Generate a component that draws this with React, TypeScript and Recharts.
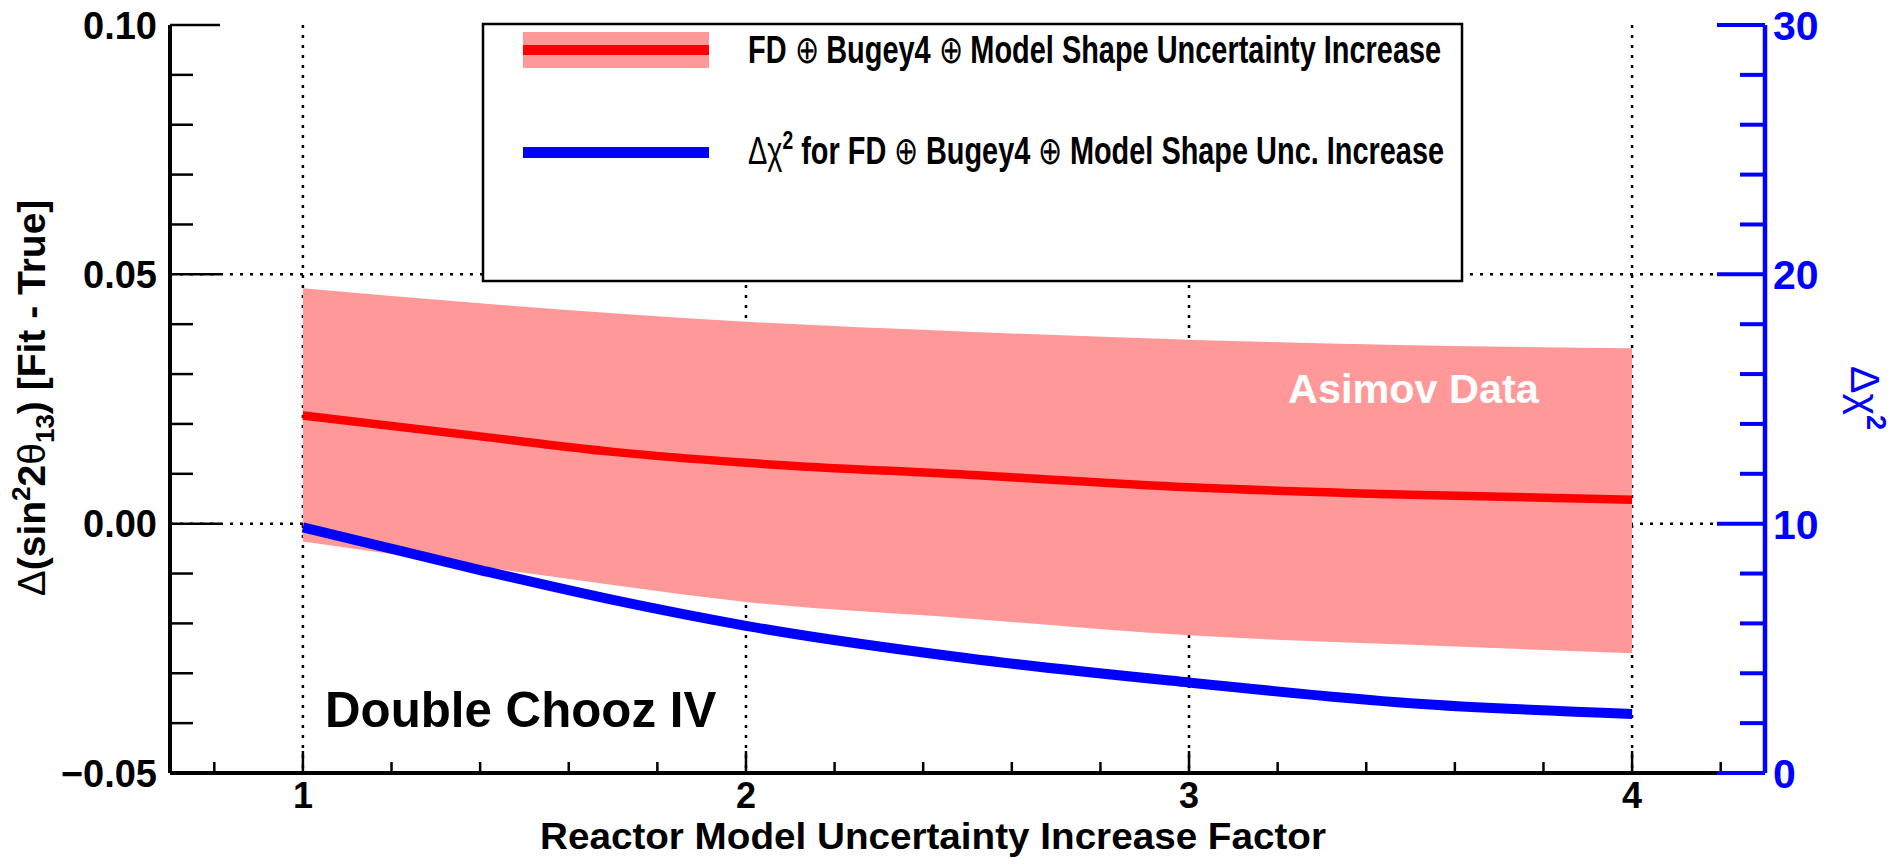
import React, { useLayoutEffect, useRef, useState } from 'react';
import { ComposedChart, Area, Line, XAxis, YAxis, CartesianGrid } from 'recharts';

// Reactor model uncertainty increase factor (x values of the curves)
const factors = [1, 1.4, 1.7, 2, 2.5, 3, 3.5, 4];
// Δ(sin²2θ13) best fit minus true value
const fitMinusTrue = [0.0217, 0.0175, 0.0144, 0.0122, 0.0098, 0.0073, 0.0058, 0.0048];
// 1σ band around the fit
const bandLow = [-0.0036, -0.0086, -0.0123, -0.0157, -0.019, -0.0224, -0.0243, -0.026];
const bandHigh = [0.0472, 0.0442, 0.0422, 0.0405, 0.0385, 0.0369, 0.0358, 0.0352];
// Δχ² (right axis)
const deltaChi2 = [9.85, 8.14, 6.94, 5.9, 4.6, 3.63, 2.8, 2.37];

// Axis ticks (minor + major) and labelled majors
const xTicks = [0.8, 1, 1.2, 1.4, 1.6, 1.8, 2, 2.2, 2.4, 2.6, 2.8, 3, 3.2, 3.4, 3.6, 3.8, 4, 4.2];
const xMajor = [1, 2, 3, 4];
const xMajorLabels = ['1', '2', '3', '4'];
const leftTicks = [-0.05, -0.04, -0.03, -0.02, -0.01, 0, 0.01, 0.02, 0.03, 0.04, 0.05, 0.06, 0.07, 0.08, 0.09, 0.1];
const leftMajor = [-0.05, 0, 0.05, 0.1];
const leftMajorLabels = ['\u22120.05', '0.00', '0.05', '0.10'];
const rightTicks = [0, 2, 4, 6, 8, 10, 12, 14, 16, 18, 20, 22, 24, 26, 28, 30];
const rightMajor = [0, 10, 20, 30];
const rightMajorLabels = ['0', '10', '20', '30'];
const gridY = [0, 0.05];

const rows = factors.map((f, i) => ({
  f,
  mid: fitMinusTrue[i],
  lo: bandLow[i],
  hi: bandHigh[i],
  chi: deltaChi2[i],
}));

const W = 1895;
const H = 865;
const FONT = '"Liberation Sans", Arial, Helvetica, sans-serif';
const BAND = '#ff9999';
const RED = '#ff0000';
const BLUE = '#0000ff';
const OPLUS = '\u2295';

const majorIndex = (list: number[], v: number) => list.findIndex((m) => Math.abs(m - v) < 1e-9);

// Text squeezed horizontally to a given width (condensed look)
const FitText = ({ x, y, width, children, ...rest }: any) => {
  const ref = useRef<SVGTextElement>(null);
  const [sx, setSx] = useState(1);
  useLayoutEffect(() => {
    if (ref.current) {
      const w = ref.current.getBBox().width;
      if (w > 0) setSx(width / w);
    }
  }, [width]);
  return (
    <g transform={`translate(${x},${y}) scale(${sx},1)`}>
      <text ref={ref} x={0} y={0} {...rest}>
        {children}
      </text>
    </g>
  );
};

const BottomTick = (props: any) => {
  const { x, y, payload } = props;
  const k = majorIndex(xMajor, payload.value);
  const len = k >= 0 ? 22 : 11;
  return (
    <g>
      <line x1={x} x2={x} y1={y} y2={y - len} stroke="#000" strokeWidth={2.5} />
      {k >= 0 && (
        <text x={x} y={y + 35} textAnchor="middle" fontFamily={FONT} fontWeight="bold" fontSize={36} fill="#000">
          {xMajorLabels[k]}
        </text>
      )}
    </g>
  );
};

const TopTick = (props: any) => {
  const { x, y, payload } = props;
  const k = majorIndex(xMajor, payload.value);
  const len = k >= 0 ? 23 : 10;
  return <line x1={x} x2={x} y1={y} y2={y + len} stroke="#000" strokeWidth={2.5} />;
};

const LeftTick = (props: any) => {
  const { x, y, payload } = props;
  const k = majorIndex(leftMajor, payload.value);
  const len = k >= 0 ? 50 : 23;
  return (
    <g>
      <line x1={x} x2={x + len} y1={y} y2={y} stroke="#000" strokeWidth={2.5} />
      {k >= 0 && (
        <text x={x - 13} y={y + 13.5} textAnchor="end" fontFamily={FONT} fontWeight="bold" fontSize={38} fill="#000">
          {leftMajorLabels[k]}
        </text>
      )}
    </g>
  );
};

const RightTick = (props: any) => {
  const { x, y, payload } = props;
  const k = majorIndex(rightMajor, payload.value);
  const len = k >= 0 ? 48 : 25;
  return (
    <g>
      <line x1={x} x2={x - len} y1={y} y2={y} stroke={BLUE} strokeWidth={4} />
      {k >= 0 && (
        <text x={x + 8} y={y + 15} textAnchor="start" fontFamily={FONT} fontWeight="bold" fontSize={41} fill={BLUE}>
          {rightMajorLabels[k]}
        </text>
      )}
    </g>
  );
};

const Overlay = () => (
  <svg
    width={W}
    height={H}
    style={{ position: 'absolute', left: 0, top: 0, pointerEvents: 'none' }}
    fontFamily={FONT}
  >
    {/* legend box */}
    <rect x={483} y={24} width={979} height={257} fill="#fff" stroke="#000" strokeWidth={2.5} />
    <rect x={523} y={32} width={186} height={36} fill={BAND} />
    <line x1={523} x2={709} y1={50} y2={50} stroke={RED} strokeWidth={10} />
    <line x1={523} x2={709} y1={152.5} y2={152.5} stroke={BLUE} strokeWidth={11} />
    <FitText x={748} y={63} width={695} fontSize={39} fontWeight="bold" fill="#000">
      {'FD '}
      <tspan fontWeight="normal">{OPLUS}</tspan>
      {' Bugey4 '}
      <tspan fontWeight="normal">{OPLUS}</tspan>
      {' Model Shape Uncertainty Increase'}
    </FitText>
    <FitText x={748} y={164} width={698} fontSize={39} fontWeight="bold" fill="#000">
      <tspan fontWeight="normal">{'\u0394\u03c7'}</tspan>
      <tspan fontSize={26} dy={-15}>2</tspan>
      <tspan dy={15}>{' for FD '}</tspan>
      <tspan fontWeight="normal">{OPLUS}</tspan>
      {' Bugey4 '}
      <tspan fontWeight="normal">{OPLUS}</tspan>
      {' Model Shape Unc. Increase'}
    </FitText>

    {/* annotations */}
    <FitText x={325} y={727} width={392} fontSize={50} fontWeight="bold" fill="#000">
      Double Chooz IV
    </FitText>
    <FitText x={1288} y={403} width={252} fontSize={41} fontWeight="bold" fill="#fff">
      Asimov Data
    </FitText>

    {/* axis titles */}
    <FitText x={540} y={849} width={786} fontSize={37} fontWeight="bold" fill="#000">
      Reactor Model Uncertainty Increase Factor
    </FitText>
    <g transform="translate(45,398) rotate(-90)">
      <text x={0} y={0} textAnchor="middle" fontSize={39} fontWeight="bold" fill="#000">
        <tspan fontWeight="normal">{'\u0394'}</tspan>
        <tspan>(sin</tspan>
        <tspan fontSize={26} dy={-15}>2</tspan>
        <tspan dy={15}>2</tspan>
        <tspan fontWeight="normal">{'\u03b8'}</tspan>
        <tspan fontSize={26} dy={9}>13</tspan>
        <tspan dy={-9}>) [Fit - True]</tspan>
      </text>
    </g>
    <g transform="translate(1851,398) rotate(90)">
      <text x={0} y={0} textAnchor="middle" fontSize={41} fill={BLUE}>
        <tspan>{'\u0394\u03c7'}</tspan>
        <tspan fontSize={27} fontWeight="bold" dy={-16}>2</tspan>
      </text>
    </g>
  </svg>
);

export default function App() {
  return (
    <div style={{ position: 'absolute', left: 0, top: 0, width: W, height: H, background: '#fff' }}>
      <ComposedChart width={W} height={H} data={rows} margin={{ top: 25, right: 0, bottom: 0, left: 0 }}>
        <CartesianGrid
          yAxisId="left"
          stroke="#000"
          strokeWidth={2.5}
          strokeDasharray="3 7"
          verticalValues={xMajor}
          horizontalValues={gridY}
        />
        <XAxis
          dataKey="f"
          type="number"
          domain={[0.7, 4.3]}
          ticks={xTicks}
          interval={0}
          tickSize={0}
          tickMargin={0}
          height={92}
          allowDataOverflow
          axisLine={{ stroke: '#000', strokeWidth: 4 }}
          tickLine={false}
          tick={<BottomTick />}
        />
        <XAxis
          xAxisId="top"
          orientation="top"
          dataKey="f"
          type="number"
          domain={[0.7, 4.3]}
          ticks={xTicks}
          interval={0}
          tickSize={0}
          tickMargin={0}
          height={0}
          allowDataOverflow
          axisLine={{ stroke: '#000', strokeWidth: 3 }}
          tickLine={false}
          tick={<TopTick />}
        />
        <YAxis
          yAxisId="left"
          type="number"
          domain={[-0.05, 0.1]}
          ticks={leftTicks}
          interval={0}
          tickSize={0}
          tickMargin={0}
          width={170}
          allowDataOverflow
          axisLine={{ stroke: '#000', strokeWidth: 4 }}
          tickLine={false}
          tick={<LeftTick />}
        />
        <YAxis
          yAxisId="right"
          orientation="right"
          type="number"
          domain={[0, 30]}
          ticks={rightTicks}
          interval={0}
          tickSize={0}
          tickMargin={0}
          width={130}
          allowDataOverflow
          axisLine={{ stroke: BLUE, strokeWidth: 4.5 }}
          tickLine={false}
          tick={<RightTick />}
        />
        <Area
          yAxisId="left"
          type="monotone"
          dataKey={(d: any) => [d.lo, d.hi]}
          fill={BAND}
          fillOpacity={1}
          stroke="none"
          isAnimationActive={false}
        />
        <Line
          yAxisId="left"
          type="monotone"
          dataKey="mid"
          stroke={RED}
          strokeWidth={8.5}
          dot={false}
          isAnimationActive={false}
        />
        <Line
          yAxisId="right"
          type="monotone"
          dataKey="chi"
          stroke={BLUE}
          strokeWidth={10}
          dot={false}
          isAnimationActive={false}
        />
      </ComposedChart>
      <Overlay />
    </div>
  );
}
